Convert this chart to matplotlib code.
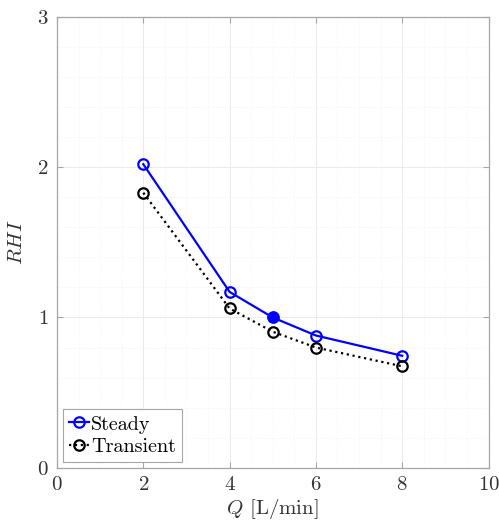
import matplotlib
matplotlib.use("Agg")
import matplotlib.pyplot as plt
from matplotlib.ticker import MultipleLocator

plt.rcParams["font.family"] = "serif"
plt.rcParams["font.serif"] = ["cmr10", "DejaVu Serif"]
plt.rcParams["mathtext.fontset"] = "cm"
plt.rcParams["axes.formatter.use_mathtext"] = True

# Flow rate and RHI values
q_values = [2, 4, 5, 6, 8]
steady_rhi = [2.02, 1.17, 1.00, 0.88, 0.745]
transient_rhi = [1.83, 1.06, 0.905, 0.80, 0.675]
highlight_idx = 2  # the filled point on the steady curve

fig = plt.figure(figsize=(4.99, 5.30), dpi=100)
ax = fig.add_axes([0.1142, 0.1175, 0.8648, 0.8505])

ax.plot(q_values, steady_rhi, color="blue", linewidth=1.6, marker="o",
        markersize=7.5, markerfacecolor="none", markeredgewidth=1.6, label="Steady")
ax.plot(q_values[highlight_idx], steady_rhi[highlight_idx], linestyle="none",
        marker="o", markersize=7.5, color="blue")
ax.plot(q_values, transient_rhi, color="black", linewidth=1.6, linestyle=":",
        marker="o", markersize=7.5, markerfacecolor="none", markeredgewidth=1.6,
        label="Transient")

ax.set_xlim(0, 10)
ax.set_ylim(0, 3)
ax.xaxis.set_major_locator(MultipleLocator(2))
ax.yaxis.set_major_locator(MultipleLocator(1))
ax.xaxis.set_minor_locator(MultipleLocator(0.5))
ax.yaxis.set_minor_locator(MultipleLocator(0.2))

ax.grid(which="major", color="#ebebeb", linewidth=0.7)
ax.grid(which="minor", color="#f1f1f1", linewidth=0.6, linestyle=":")
ax.set_axisbelow(True)

for sp in ax.spines.values():
    sp.set_color("#a6a6a6")
    sp.set_linewidth(0.9)
ax.tick_params(which="major", direction="in", length=4, top=True, right=True,
               color="#a6a6a6", labelsize=15, labelcolor="#333333", pad=6)
ax.tick_params(which="minor", length=0)

ax.set_xlabel(r"$Q$ [L/min]", fontsize=15, color="#333333", labelpad=2)
ax.set_ylabel(r"$RHI$", fontsize=15, color="#333333", labelpad=8)

leg = ax.legend(loc="lower left", fontsize=14.5, handlelength=1.0, handletextpad=0.1,
                borderpad=0.3, labelspacing=0.2, borderaxespad=0.3,
                fancybox=False, framealpha=1, edgecolor="#a6a6a6")
leg.get_frame().set_linewidth(0.8)

fig.savefig("out.png", dpi=100)
